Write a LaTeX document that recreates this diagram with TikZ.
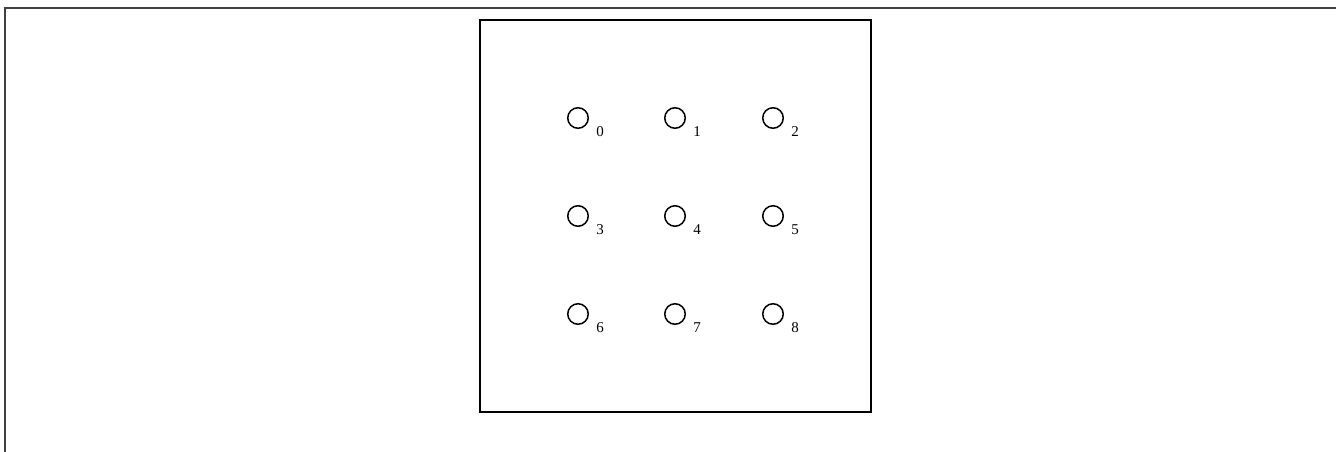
\documentclass[tikz,border=0pt]{standalone}
\usepackage{fontspec}
\setmainfont{Liberation Serif}
\tikzset{
  frameline/.style={line width=2pt, draw=black!75},
  board/.style={draw=black, line width=1.6pt, minimum width=391pt, minimum height=392pt, inner sep=0pt},
  hole/.style={circle, draw=black, line width=1.5pt, minimum size=20.5pt, inner sep=0pt},
  holelabel/.style={font=\fontsize{15}{15}\selectfont, inner sep=0pt}
}
\begin{document}
\begin{tikzpicture}[x=1pt,y=-1pt]
\useasboundingbox (0,0) rectangle (1336,452);
\coordinate (fbl) at (4.5,460);
\coordinate (ftl) at (4.5,8.5);
\coordinate (ftr) at (1340,8.5);
\draw[frameline] (fbl) -- (ftl) -- (ftr);
\node[board] (b) at (675.5,216) {};
\foreach \i/\x/\y in {0/578/118,1/675/118,2/773/118,3/578/216,4/675/216,5/773/216,6/578/314,7/675/314,8/773/314}{
  \node[hole] (c\i) at (\x,\y) {};
  \node[holelabel] (l\i) at (\x+22,\y+14) {\i};
}
\end{tikzpicture}
\end{document}
